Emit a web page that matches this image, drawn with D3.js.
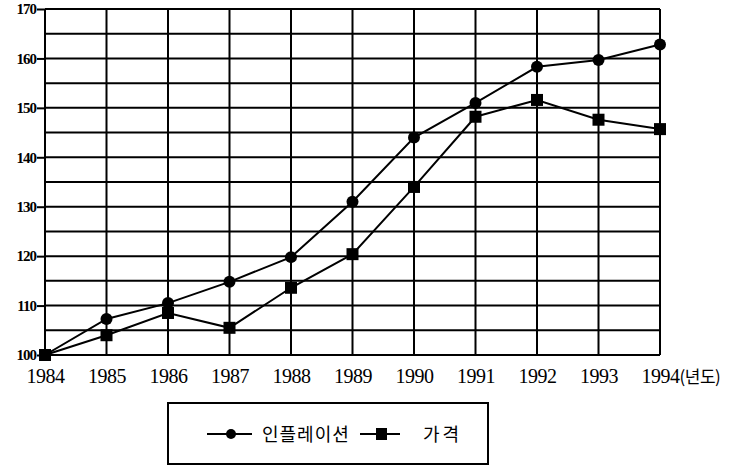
<!DOCTYPE html>
<html><head><meta charset="utf-8">
<script src="https://cdn.jsdelivr.net/npm/d3@7"></script>
<style>body{margin:0;background:#fff}svg{display:block}</style>
</head><body>
<svg id="c" width="735" height="466"></svg>
<script>
const years = [1984,1985,1986,1987,1988,1989,1990,1991,1992,1993,1994];
const inflation = [100,107.3,110.5,114.8,119.8,131,144,151,158.3,159.7,162.8];
const price = [100,104,108.5,105.5,113.6,120.4,134,148.2,151.6,147.6,145.7];
const yTicks = [100,110,120,130,140,150,160,170];
const seriesNames = ["인플레이션","가격"];

const svg = d3.select("#c");
const x = d3.scaleLinear().domain([1984,1994]).range([45,660]);
const y = d3.scaleLinear().domain([100,170]).range([355,9]);
const serif = "'Liberation Serif','DejaVu Serif',serif";
const kr = "'Noto Sans CJK KR',sans-serif";

// grid
const g = svg.append("g").attr("stroke","#000").attr("stroke-width",2);
d3.range(100,171,5).forEach(v=>{
  g.append("line").attr("x1",x(1984)).attr("x2",x(1994)).attr("y1",y(v)).attr("y2",y(v));
});
years.forEach(yr=>{
  g.append("line").attr("x1",x(yr)).attr("x2",x(yr)).attr("y1",y(100)).attr("y2",y(170));
});

// y axis
const yAxis = d3.axisLeft(y).tickValues(yTicks).tickSize(8).tickPadding(1).tickFormat(d3.format("d"));
const ya = svg.append("g").attr("transform",`translate(${x(1984)},0)`).call(yAxis);
ya.select(".domain").remove();
ya.selectAll("line").attr("stroke","#000").attr("stroke-width",2);
ya.selectAll("text").style("font-family",serif).style("font-size","15px").style("font-weight","bold").attr("fill","#000").style("letter-spacing","-1px");

// x axis
const xAxis = d3.axisBottom(x).tickValues(years).tickSize(0).tickPadding(0).tickFormat(d=>String(d));
const xa = svg.append("g").attr("transform",`translate(0,${y(100)})`).call(xAxis);
xa.select(".domain").remove();
xa.selectAll("text").attr("y",28).attr("dy",null).style("font-family",serif).style("font-size","20px").attr("fill","#000").style("letter-spacing","-0.5px");
xa.selectAll(".tick").filter(d=>d===1994).select("text").text(null)
  .call(t=>{t.append("tspan").text("1994");t.append("tspan").style("font-family",kr).style("font-size","17px").text("(년도)");})
  .attr("text-anchor","start").attr("x",-19);

// lines
const line = d3.line().x((d,i)=>x(years[i])).y(d=>y(d));
[inflation,price].forEach(s=>{
  svg.append("path").datum(s).attr("d",line).attr("fill","none").attr("stroke","#000").attr("stroke-width",2);
});
svg.selectAll("circle.m").data(inflation).join("circle").attr("class","m")
  .attr("cx",(d,i)=>x(years[i])).attr("cy",d=>y(d)).attr("r",6).attr("fill","#000");
svg.selectAll("rect.m").data(price).join("rect").attr("class","m")
  .attr("x",(d,i)=>x(years[i])-6).attr("y",d=>y(d)-6).attr("width",12).attr("height",12).attr("fill","#000");

// legend
const lg = svg.append("g");
lg.append("rect").attr("x",168).attr("y",403).attr("width",320).attr("height",61).attr("fill","none").attr("stroke","#000").attr("stroke-width",2);
lg.append("line").attr("x1",207).attr("x2",252).attr("y1",434).attr("y2",434).attr("stroke","#000").attr("stroke-width",2);
lg.append("circle").attr("cx",231).attr("cy",434).attr("r",5).attr("fill","#000");
lg.append("text").attr("x",262).attr("y",441).style("font-family",kr).style("font-size","18px").attr("fill","#000").style("letter-spacing","1px").text(seriesNames[0]);
lg.append("line").attr("x1",360).attr("x2",400).attr("y1",434).attr("y2",434).attr("stroke","#000").attr("stroke-width",2);
lg.append("rect").attr("x",376).attr("y",428).attr("width",11).attr("height",12).attr("fill","#000");
lg.append("text").attr("x",423).attr("y",441).style("font-family",kr).style("font-size","18px").attr("fill","#000").style("letter-spacing","3px").text(seriesNames[1]);
</script>
</body></html>
